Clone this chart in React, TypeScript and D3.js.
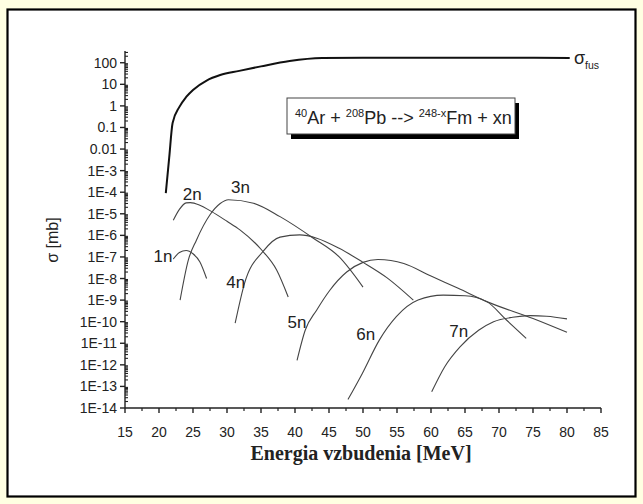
import React from "react";
import * as d3 from "d3";

const W = 643;
const H = 504;

// x axis (excitation energy, MeV)
const xTicks = [15, 20, 25, 30, 35, 40, 45, 50, 55, 60, 65, 70, 75, 80, 85];

// y axis (cross section, mb) - log scale
const yTicks = [1e2, 1e1, 1, 1e-1, 1e-2, 1e-3, 1e-4, 1e-5, 1e-6, 1e-7, 1e-8, 1e-9, 1e-10, 1e-11, 1e-12, 1e-13, 1e-14];
const yTickLabels = ["100", "10", "1", "0.1", "0.01", "1E-3", "1E-4", "1E-5", "1E-6", "1E-7", "1E-8", "1E-9", "1E-10", "1E-11", "1E-12", "1E-13", "1E-14"];

// fusion cross section
const fusion: [number, number][] = [
  [21, 9e-5], [21.5, 0.004], [22, 0.16], [23, 0.9], [24, 2.6], [25, 5.5], [27, 15], [29, 27],
  [31.8, 42], [35, 68], [39.2, 120], [44, 165], [50, 172], [60, 172], [70, 170], [80.4, 168],
];

// evaporation channels
const n1: [number, number][] = [[22.1, 8e-8], [23, 1.6e-7], [24, 2e-7], [25, 1.4e-7], [26, 6e-8], [27, 1e-8]];
const n2: [number, number][] = [
  [22.1, 5e-6], [23, 1.6e-5], [24, 3.2e-5], [24.6, 3.3e-5], [26, 2.5e-5], [27.5, 1.4e-5],
  [30, 4.5e-6], [31.9, 1.8e-6], [35.1, 2.1e-7], [37.3, 2.5e-8], [39, 1.4e-9],
];
const n3: [number, number][] = [
  [23.1, 1e-9], [24.3, 7e-8], [25.5, 6e-7], [27.5, 9e-6], [29, 3e-5], [30.2, 4.5e-5],
  [33.9, 3.1e-5], [37.8, 7.4e-6], [42.7, 7.4e-7], [46.5, 1e-7], [50, 4e-9],
];
const n4: [number, number][] = [
  [31.2, 8.5e-11], [32.6, 6.3e-9], [35.3, 1.8e-7], [37.8, 8.3e-7], [40.7, 1.05e-6],
  [43.2, 7.4e-7], [46.5, 2.5e-7], [49.9, 5.9e-8], [53.5, 1.1e-8], [57.4, 1e-9],
];
const n5: [number, number][] = [
  [40.3, 1.6e-12], [41.5, 4e-11], [43.2, 3.5e-10], [45.1, 2.8e-9], [47.6, 2e-8], [50, 5.6e-8],
  [52.2, 7.6e-8], [56, 5e-8], [60, 1.3e-8], [64, 3.5e-9], [68.2, 8.5e-10], [75, 1.4e-10], [80, 3.2e-11],
];
const n6: [number, number][] = [
  [47.8, 2.5e-14], [49.9, 4e-13], [52.4, 1.4e-11], [54.9, 1.7e-10], [58.1, 1e-9],
  [61.8, 1.7e-9], [65, 1.6e-9], [68.2, 8.5e-10], [71.1, 1.2e-10], [74, 1.7e-11],
];
const n7: [number, number][] = [
  [60.1, 5.6e-14], [62, 8e-13], [64.3, 7e-12], [67, 4e-11], [69.2, 1e-10], [72, 1.6e-10],
  [74.6, 1.9e-10], [77, 1.8e-10], [80, 1.35e-10],
];

const channelNames = ["1n", "2n", "3n", "4n", "5n", "6n", "7n"];
const channelData = [n1, n2, n3, n4, n5, n6, n7];
// where each channel name sits (energy, cross section)
const labelAt: [number, number][] = [
  [19.2, 6.1e-8], [23.5, 4.4e-5], [30.6, 9.1e-5], [29.9, 3.7e-9], [38.9, 5.1e-11], [49.0, 1.4e-11], [62.7, 2e-11],
];

const App = () => {
  const x = d3.scaleLinear().domain([15, 85]).range([125, 601]);
  const y = d3.scaleLog().domain([1e-14, 350]).range([408, 51]);

  const line = d3
    .line<[number, number]>()
    .x((d) => x(d[0]))
    .y((d) => y(d[1]))
    .curve(d3.curveMonotoneX);

  const minorY: number[] = [];
  for (let e = -14; e <= 2; e++) {
    for (let m = 2; m <= 9; m++) {
      const v = m * Math.pow(10, e);
      if (v <= 350) minorY.push(v);
    }
  }
  const minorX = d3.range(17.5, 85, 5);

  const sans = "Arial, 'Liberation Sans', sans-serif";
  const ink = "#222";

  return (
    <svg width={W} height={H} style={{ position: "absolute", left: 0, top: 0 }}>
      <rect x={0} y={0} width={W} height={H} fill="#ffffe2" />
      <rect x={7.5} y={9.5} width={628} height={487} fill="#fff" stroke="#000" strokeWidth={2.2} />

      {/* y axis */}
      <line x1={x(15)} x2={x(15)} y1={y(350)} y2={y(1e-14)} stroke={ink} strokeWidth={1.4} />
      {yTicks.map((v, i) => (
        <g key={"yt" + i}>
          <line x1={x(15) - 5} x2={x(15)} y1={y(v)} y2={y(v)} stroke={ink} strokeWidth={1.4} />
          <text x={x(15) - 8} y={y(v) + 5} textAnchor="end" fontSize={14} fontFamily={sans} fill={ink}>
            {yTickLabels[i]}
          </text>
        </g>
      ))}
      {minorY.map((v, i) => (
        <line key={"ym" + i} x1={x(15)} x2={x(15) + 3} y1={y(v)} y2={y(v)} stroke={ink} strokeWidth={1.1} />
      ))}

      {/* x axis */}
      <line x1={x(15)} x2={x(85)} y1={y(1e-14)} y2={y(1e-14)} stroke={ink} strokeWidth={1.4} />
      {xTicks.map((v) => (
        <g key={"xt" + v}>
          <line x1={x(v)} x2={x(v)} y1={y(1e-14)} y2={y(1e-14) + 5} stroke={ink} strokeWidth={1.4} />
          <text x={x(v)} y={y(1e-14) + 29} textAnchor="middle" fontSize={14} fontFamily={sans} fill={ink}>
            {v}
          </text>
        </g>
      ))}
      {minorX.map((v) => (
        <line key={"xm" + v} x1={x(v)} x2={x(v)} y1={y(1e-14)} y2={y(1e-14) + 3} stroke={ink} strokeWidth={1.2} />
      ))}

      <text
        x={361}
        y={460}
        textAnchor="middle"
        fontSize={20}
        fontWeight="bold"
        fontFamily="'Times New Roman', 'Liberation Serif', serif"
        fill={ink}
      >
        Energia vzbudenia [MeV]
      </text>
      <text
        transform="translate(58,240) rotate(-90)"
        textAnchor="middle"
        fontSize={16}
        fontFamily={sans}
        fill={ink}
      >
        σ [mb]
      </text>

      {/* fusion */}
      <path d={line(fusion) || ""} fill="none" stroke="#111" strokeWidth={2} />
      <text x={574} y={64} fontSize={18} fontFamily={sans} fill={ink}>
        σ
        <tspan fontSize={10.5} dy={5}>fus</tspan>
      </text>

      {/* xn channels */}
      {channelData.map((d, i) => (
        <path key={"c" + i} d={line(d) || ""} fill="none" stroke="#444" strokeWidth={1.1} />
      ))}
      {channelNames.map((n, i) => (
        <text key={"l" + i} x={x(labelAt[i][0])} y={y(labelAt[i][1])} fontSize={17} fontFamily={sans} fill={ink}>
          {n}
        </text>
      ))}

      {/* reaction box */}
      <rect x={291} y={103} width={228} height={36} fill="#000" />
      <rect x={287} y={98} width={228} height={36} fill="#fff" stroke="#444" strokeWidth={1} />
      <text x={295} y={124} fontSize={18} fontFamily={sans} fill={ink}>
        <tspan fontSize={11} dy={-7}>40</tspan>
        <tspan dy={7}>Ar + </tspan>
        <tspan fontSize={11} dy={-7}>208</tspan>
        <tspan dy={7}>Pb --&gt; </tspan>
        <tspan fontSize={11} dy={-7}>248-x</tspan>
        <tspan dy={7}>Fm + xn</tspan>
      </text>
    </svg>
  );
};

export default App;
